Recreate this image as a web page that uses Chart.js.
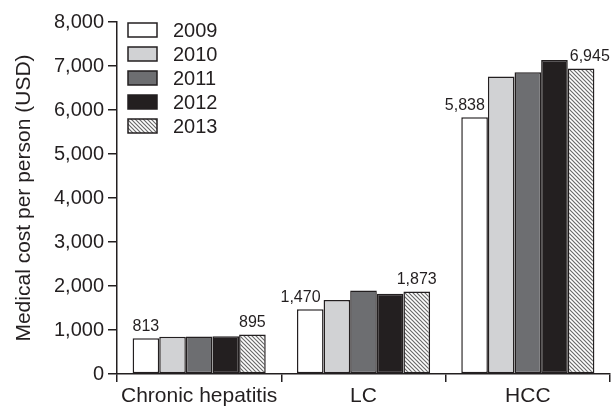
<!DOCTYPE html>
<html>
<head>
<meta charset="utf-8">
<script src="https://cdn.jsdelivr.net/npm/chart.js@4.4.1/dist/chart.umd.min.js"></script>
<style>
html,body{margin:0;padding:0;background:#fff;}
#wrap{width:611px;height:406px;position:relative;}
</style>
</head>
<body>
<div id="wrap"><canvas id="c" width="611" height="406"></canvas></div>
<script>
// ---- data ----
const categories = ['Chronic hepatitis', 'LC', 'HCC'];
const years = ['2009', '2010', '2011', '2012', '2013'];
const v2009 = [813, 1470, 5838];
const v2010 = [845, 1680, 6760];
const v2011 = [855, 1900, 6860];
const v2012 = [860, 1825, 7135];
const v2013 = [895, 1873, 6945];
const yTicks = [0, 1000, 2000, 3000, 4000, 5000, 6000, 7000, 8000];
const labeledYears = ['2009', '2013'];

// ---- styling ----
const FONT = "'Liberation Sans', Arial, Helvetica, sans-serif";
const INK = '#231f20';

function hatchPattern() {
  const s = 4;
  const cv = document.createElement('canvas');
  cv.width = s; cv.height = s;
  const g = cv.getContext('2d');
  g.fillStyle = '#ffffff';
  g.fillRect(0, 0, s, s);
  g.strokeStyle = '#6a6a6a';
  g.lineWidth = 1.2;
  g.beginPath();
  g.moveTo(-1, -1); g.lineTo(s + 1, s + 1);
  g.moveTo(-1, s - 1); g.lineTo(1, s + 1);
  g.moveTo(s - 1, -1); g.lineTo(s + 1, 1);
  g.stroke();
  return g.createPattern(cv, 'repeat');
}

const fills = ['#ffffff', '#d1d2d4', '#6d6e71', '#231f20', hatchPattern()];
const seriesValues = [v2009, v2010, v2011, v2012, v2013];

const datasets = years.map((y, i) => ({
  label: y,
  data: seriesValues[i],
  backgroundColor: fills[i],
  borderColor: INK,
  borderWidth: 1.5,
  borderSkipped: false,
  categoryPercentage: 0.81,
  barPercentage: 1.0
}));

const legendPlugin = {
  id: 'boxLegend',
  afterDraw(chart) {
    const ctx = chart.ctx;
    ctx.save();
    const x0 = 128, y0 = 23, bw = 29, bh = 14, step = 24;
    chart.data.datasets.forEach((ds, i) => {
      const y = y0 + i * step;
      ctx.fillStyle = ds.backgroundColor;
      ctx.fillRect(x0, y, bw, bh);
      ctx.strokeStyle = INK;
      ctx.lineWidth = 1.5;
      ctx.strokeRect(x0, y, bw, bh);
      ctx.fillStyle = INK;
      ctx.font = '20px ' + FONT;
      ctx.textAlign = 'left';
      ctx.textBaseline = 'middle';
      ctx.fillText(ds.label, 173, y + bh / 2 + 1);
    });
    ctx.restore();
  }
};

const valueLabelPlugin = {
  id: 'valueLabels',
  afterDatasetsDraw(chart) {
    const ctx = chart.ctx;
    ctx.save();
    ctx.font = '16px ' + FONT;
    ctx.fillStyle = INK;
    ctx.textBaseline = 'bottom';
    chart.data.datasets.forEach((ds, di) => {
      if (!labeledYears.includes(ds.label)) return;
      const meta = chart.getDatasetMeta(di);
      meta.data.forEach((bar, j) => {
        const txt = ds.data[j].toLocaleString('en-US');
        const w = ctx.measureText(txt).width;
        const half = bar.width / 2;
        let x = bar.x, align = 'center';
        if (w > bar.width + 4) {
          if (di === 0) { align = 'right'; x = bar.x + half - 3; }
          else if (j === chart.data.labels.length - 1) { align = 'left'; x = bar.x - half + 2; }
        }
        ctx.textAlign = align;
        ctx.fillText(txt, x, bar.y - 4);
      });
    });
    ctx.restore();
  }
};

new Chart(document.getElementById('c'), {
  type: 'bar',
  data: { labels: categories, datasets: datasets },
  options: {
    responsive: false,
    animation: false,
    devicePixelRatio: 1,
    layout: { padding: { top: 22, right: 1, left: 0, bottom: 0 } },
    plugins: { legend: { display: false }, tooltip: { enabled: false } },
    scales: {
      x: {
        grid: { display: true, drawOnChartArea: false, drawTicks: true, tickLength: 8, color: INK, lineWidth: 1.5, offset: true },
        border: { display: true, color: INK, width: 1.5 },
        ticks: { color: INK, font: { family: FONT, size: 21 }, padding: 2, maxRotation: 0 },
        afterFit(s) { s.height = 32; }
      },
      y: {
        min: 0, max: 8000,
        afterBuildTicks(s) { s.ticks = yTicks.map(v => ({ value: v })); },
        grid: { display: true, drawOnChartArea: false, drawTicks: true, tickLength: 9, color: INK, lineWidth: 1.5 },
        border: { display: true, color: INK, width: 1.5 },
        ticks: { color: INK, font: { family: FONT, size: 20 }, padding: 4,
                 callback: v => v.toLocaleString('en-US') },
        title: { display: true, text: 'Medical cost per person (USD)', color: INK,
                 font: { family: FONT, size: 21 }, padding: { top: 12, bottom: 2 } },
        afterFit(s) { s.width = 117; }
      }
    }
  },
  plugins: [legendPlugin, valueLabelPlugin]
});
</script>
</body>
</html>
